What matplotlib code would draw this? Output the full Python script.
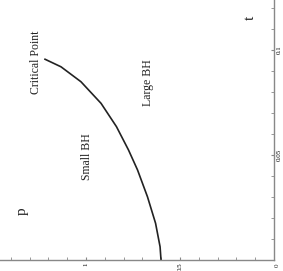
import matplotlib
matplotlib.use("Agg")
import matplotlib.pyplot as plt
from matplotlib.ticker import MultipleLocator, FixedLocator

# coexistence curve (t, p)
t_vals = [0.0, 0.0063, 0.0175, 0.0301, 0.0429, 0.0524, 0.0635, 0.0746, 0.0849, 0.0920, 0.0956]
p_vals = [0.601, 0.606, 0.630, 0.673, 0.726, 0.774, 0.838, 0.920, 1.027, 1.133, 1.218]

p_ticks = [0.5, 1.0]
p_labels = ["0.5", "1"]
t_ticks = [0.05, 0.1]
t_labels = ["0.05", "0.1"]

plt.rcParams['font.family'] = ['Liberation Serif', 'DejaVu Serif']

W, H = 283, 271
fig = plt.figure(figsize=(W / 100, H / 100), dpi=100)
# the whole chart is turned a quarter turn: p runs right-to-left, t runs upward
ax = fig.add_axes([0, (H - 260) / H, 274 / W, 260 / H])
ax.plot(p_vals, t_vals, color='#222222', lw=1.2, solid_joinstyle='round')
ax.set_xlim(274 / 188, 0)
ax.set_ylim(0, 260 / 2100)

for s in ['top', 'left']:
    ax.spines[s].set_visible(False)
for s in ['bottom', 'right']:
    ax.spines[s].set_color('#888888')
    ax.spines[s].set_linewidth(1.0)

ax.yaxis.tick_right()
ax.xaxis.set_major_locator(FixedLocator(p_ticks))
ax.xaxis.set_minor_locator(MultipleLocator(0.1))
ax.yaxis.set_major_locator(FixedLocator(t_ticks))
ax.yaxis.set_minor_locator(MultipleLocator(0.01))
ax.set_xticklabels(p_labels, rotation=90, fontsize=5)
ax.set_yticklabels(t_labels, rotation=90, fontsize=5, va='center')
ax.tick_params(which='both', direction='in', length=2, color='#888888', pad=2)

kw = dict(rotation=90, ha='center', va='center', color='#222222')
ax.text(1.265, 0.0943, "Critical Point", fontsize=8.5, **kw)
ax.text(0.995, 0.049, "Small BH", fontsize=8.5, **kw)
ax.text(0.670, 0.0843, "Large BH", fontsize=8.5, **kw)
ax.text(1.340, 0.0233, "p", fontsize=11, **kw)
ax.text(0.128, 0.1152, "t", fontsize=11, **kw)
ax.text(-0.017, -0.0027, "0", fontsize=5, clip_on=False, **kw)

fig.savefig("out.png", dpi=100)
